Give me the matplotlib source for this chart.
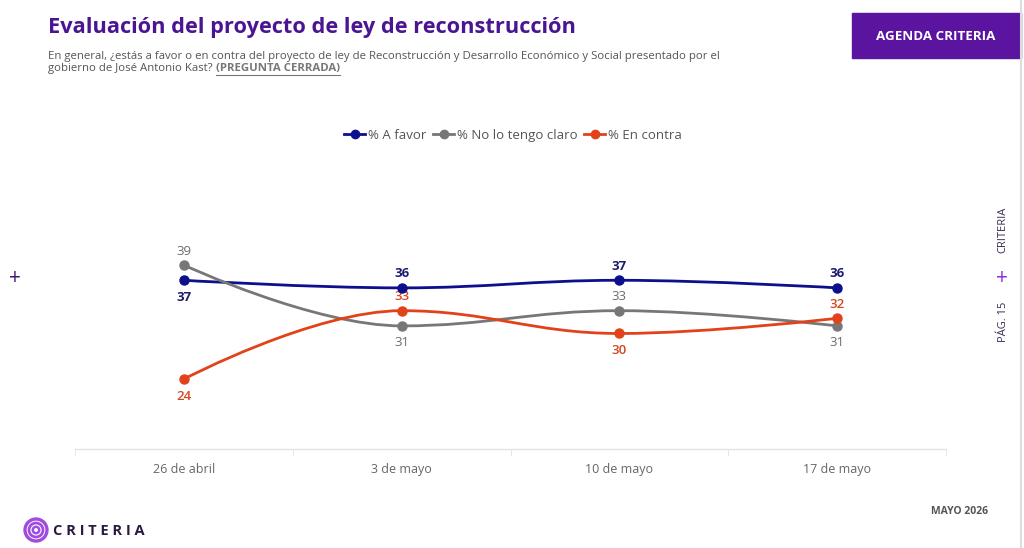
import numpy as np
import matplotlib
matplotlib.use("Agg")
import matplotlib.pyplot as plt
from matplotlib.path import Path
from matplotlib.patches import PathPatch, Rectangle, Ellipse
from matplotlib.lines import Line2D

plt.rcParams['font.family'] = ['Open Sans', 'DejaVu Sans']

# Data
fechas = ['26 de abril', '3 de mayo', '10 de mayo', '17 de mayo']
a_favor = [37, 36, 37, 36]
no_claro = [39, 31, 33, 31]
en_contra = [24, 33, 30, 32]

series_names = ['% A favor', '% No lo tengo claro', '% En contra']
series_vals = [a_favor, no_claro, en_contra]
line_colors = ['#0d0f8c', '#777777', '#e2421a']
label_colors = ['#1b1c6e', '#6b6b6b', '#d2471f']
label_weights = ['bold', 'normal', 'semibold']
# +1 label above point, -1 below
label_side = [
    [-1, 1, 1, 1],
    [1, -1, 1, -1],
    [-1, 1, -1, 1],
]

PURPLE = '#4b1591'
BOX = '#5a14a0'


def spline_path(xs, ys):
    # highcharts-like spline control points
    n = len(xs)
    verts = [(xs[0], ys[0])]
    codes = [Path.MOVETO]
    ctrl = []
    sm = 1.5
    for i in range(n):
        if i == 0 or i == n - 1:
            ctrl.append(((xs[i], ys[i]), (xs[i], ys[i])))
            continue
        lx = (sm * xs[i] + xs[i - 1]) / (sm + 1)
        ly = (sm * ys[i] + ys[i - 1]) / (sm + 1)
        rx = (sm * xs[i] + xs[i + 1]) / (sm + 1)
        ry = (sm * ys[i] + ys[i + 1]) / (sm + 1)
        if rx != lx:
            corr = ((ry - ly) * (rx - xs[i])) / (rx - lx) + ys[i] - ry
            ly += corr
            ry += corr
        if ly > max(ys[i - 1], ys[i]):
            ly = max(ys[i - 1], ys[i]); ry = 2 * ys[i] - ly
        elif ly < min(ys[i - 1], ys[i]):
            ly = min(ys[i - 1], ys[i]); ry = 2 * ys[i] - ly
        if ry > max(ys[i], ys[i + 1]):
            ry = max(ys[i], ys[i + 1]); ly = 2 * ys[i] - ry
        elif ry < min(ys[i], ys[i + 1]):
            ry = min(ys[i], ys[i + 1]); ly = 2 * ys[i] - ry
        ctrl.append(((lx, ly), (rx, ry)))
    for i in range(1, n):
        verts += [ctrl[i - 1][1], ctrl[i][0], (xs[i], ys[i])]
        codes += [Path.CURVE4] * 3
    return Path(verts, codes)


fig = plt.figure(figsize=(10.24, 5.48), dpi=100)
W, H = 1024, 548


def fx(px):
    return px / W


def fy(py):
    return 1 - py / H


# plot area: x 75..946, y baseline at 449
ax = fig.add_axes([fx(75), fy(449), fx(946 - 75), (449 - 160) / H])
ax.set_xlim(-0.5, len(fechas) - 0.5)
ax.set_ylim(14.8, 14.8 + (449 - 160) / 7.6)

x = np.arange(len(fechas))
for vals, col, lcol, w, sides in zip(series_vals, line_colors, label_colors, label_weights, label_side):
    ax.add_patch(PathPatch(spline_path(x, vals), fill=False, edgecolor=col, lw=2.0, zorder=3))
    ax.plot(x, vals, 'o', color=col, ms=6.5, zorder=4)
    for xi, v, s in zip(x, vals, sides):
        off = 14 if s > 0 else -17
        ax.annotate(str(v), (xi, v), xytext=(0, off * 0.72), textcoords='offset points',
                    ha='center', va='center', fontsize=9.5, color=lcol, fontweight=w)

for sp in ['top', 'right', 'left']:
    ax.spines[sp].set_visible(False)
ax.spines['bottom'].set_color('#e3e3e3')
ax.spines['bottom'].set_linewidth(1)
ax.set_yticks([])
ax.set_xticks(x)
ax.set_xticklabels(fechas, fontsize=9, color='#666666')
ax.tick_params(axis='x', length=0, pad=10)
ax.set_xticks(np.arange(len(fechas) + 1) - 0.5, minor=True)
ax.tick_params(axis='x', which='minor', length=5, color='#e3e3e3')

# legend
handles = [Line2D([], [], color=c, lw=2.0, marker='o', ms=6) for c in line_colors]
fig.legend(handles, series_names, loc='center', bbox_to_anchor=(fx(513), fy(135)), ncol=3,
           frameon=False, fontsize=9.5, labelcolor='#555555', handlelength=1.6,
           handletextpad=0.2, columnspacing=0.5)

# title and subtitle
fig.text(fx(48), fy(28), 'Evaluación del proyecto de ley de reconstrucción', fontsize=15.7,
         fontweight='bold', color=PURPLE, va='center', ha='left')
fig.text(fx(48), fy(56), 'En general, ¿estás a favor o en contra del proyecto de ley de Reconstrucción y '
         'Desarrollo Económico y Social presentado por el', fontsize=8.2, color='#555555', va='center')
t1 = fig.text(fx(48), fy(69), 'gobierno de José Antonio Kast? ', fontsize=8.2, color='#555555', va='center')
fig.canvas.draw()
r = fig.canvas.get_renderer()
bb = t1.get_window_extent(r)
t2 = fig.text(bb.x1 / W, fy(69), '(PREGUNTA CERRADA)', fontsize=8.2, color='#777777',
              fontweight='bold', va='center')
bb2 = t2.get_window_extent(r)
fig.add_artist(Line2D([bb2.x0 / W, bb2.x1 / W], [fy(75), fy(75)], color='#777777', lw=0.8))

# top-right box
fig.add_artist(Rectangle((fx(852), fy(58)), fx(1021 - 852), 45 / H, color=BOX, transform=fig.transFigure))
fig.text(fx(936), fy(36), 'AGENDA CRITERIA', fontsize=9.6, fontweight='bold', color='white',
         ha='center', va='center')

# right edge
fig.add_artist(Line2D([fx(1021), fx(1021)], [0, 1], color='#dddddd', lw=1.5))
fig.text(fx(1003), fy(230), 'CRITERIA', rotation=90, fontsize=8, color='#3a2a50', ha='center', va='center')
fig.text(fx(1002), fy(279), '+', fontsize=15, color='#8a2be2', ha='center', va='center')
fig.text(fx(1003), fy(322), 'PÁG. 15', rotation=90, fontsize=8, color='#3a2a50', ha='center', va='center')
fig.text(fx(15), fy(279), '+', fontsize=15, color='#3c1a6e', ha='center', va='center')

# footer
fig.text(fx(988), fy(512), 'MAYO 2026', fontsize=7.5, fontweight='bold', color='#555555',
         ha='right', va='center')
for rad, lw in [(11, 2.4), (7, 2.0), (3.2, 1.8)]:
    fig.add_artist(Ellipse((fx(36), fy(530)), 2 * rad / W, 2 * rad / H, transform=fig.transFigure,
                           fill=False, edgecolor='#a24be0', lw=lw))
fig.text(fx(53), fy(531), 'C R I T E R I A', fontsize=10.5, fontweight='bold', color='#2a1a40',
         va='center', ha='left')

fig.savefig('out.png', dpi=100, facecolor='white')
